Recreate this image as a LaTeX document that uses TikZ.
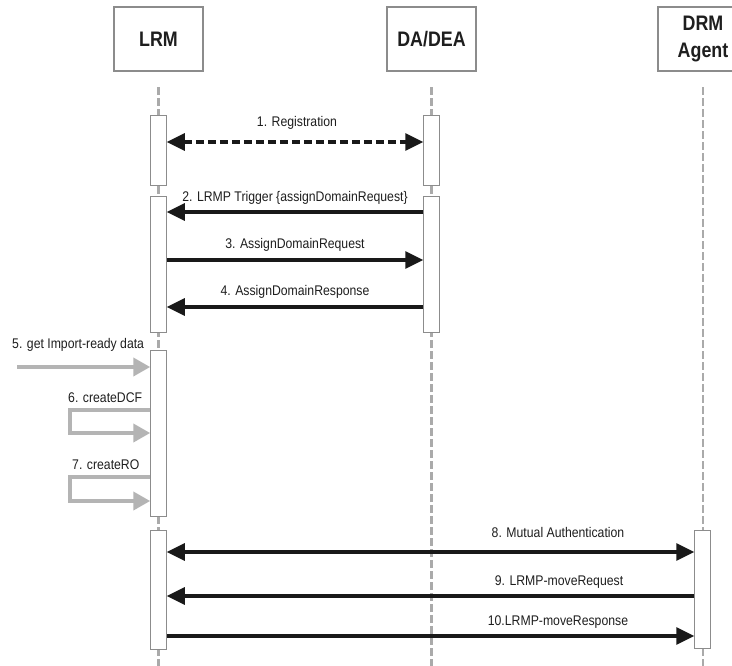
\documentclass[tikz,border=0pt]{standalone}
\usepackage{fontspec}
\usetikzlibrary{arrows.meta}
\newfontfamily\headfont[FakeStretch=0.85]{Liberation Sans}
\newfontfamily\labfont[FakeStretch=0.875]{Liberation Sans}
\definecolor{boxgray}{HTML}{8C8C8C}
\definecolor{lifegray}{HTML}{AAAAAA}
\definecolor{arrgray}{HTML}{B4B4B4}
\definecolor{txt}{HTML}{1E1E1E}
\tikzset{
  head/.style={draw=boxgray, line width=1.4pt, fill=white, minimum width=89pt, minimum height=64pt, inner sep=0pt, align=center, text=txt, font=\headfont\fontsize{21}{27}\selectfont\bfseries},
  life/.style={draw=lifegray, line width=2.8pt, dash pattern=on 8pt off 3pt},
  act/.style={draw=boxgray, line width=1pt, fill=white, minimum width=15.5pt, inner sep=0pt},
  msg/.style={draw=black!90, line width=3.3pt, -{Triangle[length=18pt,width=17pt]}},
  msgboth/.style={draw=black!90, line width=3.3pt, {Triangle[length=18pt,width=17pt]}-{Triangle[length=18pt,width=17pt]}},
  garr/.style={draw=arrgray, line width=4pt, line join=miter, -{Triangle[length=17pt,width=18pt]}},
  lab/.style={text=txt, inner sep=0pt, font=\labfont\fontsize{14}{16}\selectfont},
}
\begin{document}
\begin{tikzpicture}[x=1pt,y=-1pt]
\useasboundingbox (0,0) rectangle (732,665);
% headers
\node[head] (lrm) at (158.5,39) {LRM};
\node[head] (da) at (431.5,39) {DA/DEA};
\node[head, minimum width=90pt] (drm) at (703,39) {DRM\\Agent};
% lifelines
\coordinate (lrmTop) at (158.5,87);
\coordinate (lrmBot) at (158.5,666);
\coordinate (daTop) at (431.5,87);
\coordinate (daBot) at (431.5,666);
\coordinate (drmTop) at (703,87);
\coordinate (drmBot) at (703,666);
\draw[life] (lrmTop) -- (lrmBot);
\draw[life] (daTop) -- (daBot);
\draw[life] (drmTop) -- (drmBot);
% activation boxes
\node[act, minimum height=70pt] (la1) at (158.5,150) {};
\node[act, minimum height=136pt] (la2) at (158.5,264) {};
\node[act, minimum height=166pt] (la3) at (158.5,433) {};
\node[act, minimum height=119pt] (la4) at (158.5,589.5) {};
\node[act, minimum height=70pt] (da1) at (431.5,150) {};
\node[act, minimum height=136pt] (da2) at (431.5,264) {};
\node[act, minimum height=118pt] (dr1) at (702.5,589) {};
% messages
\draw[msgboth, dash pattern=on 8pt off 4pt] (la1.east |- 0,142) -- (da1.west |- 0,142);
\node[lab] (l1) at (297,123) {1. Registration};
\draw[msg] (da2.west |- 0,212) -- (la2.east |- 0,212);
\node[lab] (l2) at (295,198) {2. LRMP Trigger \{assignDomainRequest\}};
\draw[msg] (la2.east |- 0,260) -- (da2.west |- 0,260);
\node[lab] (l3) at (295,245) {3. AssignDomainRequest};
\draw[msg] (da2.west |- 0,307) -- (la2.east |- 0,307);
\node[lab] (l4) at (295,292) {4. AssignDomainResponse};
% local steps
\coordinate (in5) at (17,367);
\draw[garr] (in5) -- (la3.west |- 0,367);
\node[lab, anchor=west] (l5) at (12,345) {5. get Import-ready data};
\draw[garr] (la3.west |- 0,410) -- (70,410) -- (70,433) -- (la3.west |- 0,433);
\node[lab, anchor=west] (l6) at (68,398) {6. createDCF};
\draw[garr] (la3.west |- 0,477) -- (70,477) -- (70,501) -- (la3.west |- 0,501);
\node[lab, anchor=west] (l7) at (72,465) {7. createRO};
% DRM agent messages
\draw[msgboth] (la4.east |- 0,552) -- (dr1.west |- 0,552);
\node[lab] (l8) at (558,532) {8. Mutual Authentication};
\draw[msg] (dr1.west |- 0,596) -- (la4.east |- 0,596);
\node[lab] (l9) at (559,582) {9. LRMP-moveRequest};
\draw[msg] (la4.east |- 0,636) -- (dr1.west |- 0,636);
\node[lab] (l10) at (558,622) {10.LRMP-moveResponse};
\end{tikzpicture}
\end{document}
